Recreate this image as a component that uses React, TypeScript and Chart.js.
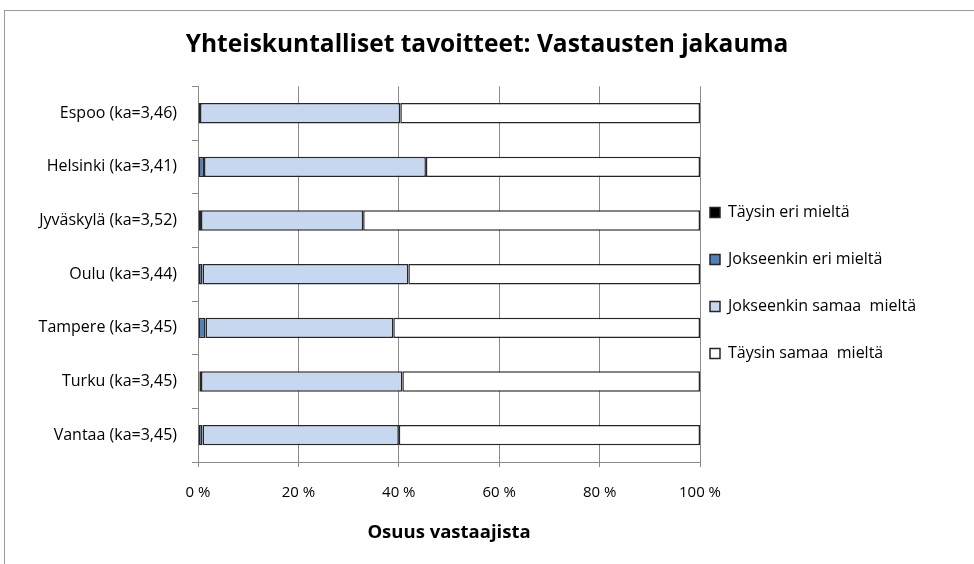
import React, { useEffect, useRef } from "react";
import { Chart, registerables } from "chart.js";

Chart.register(...registerables);

const categories = [
  "Espoo (ka=3,46)",
  "Helsinki (ka=3,41)",
  "Jyväskylä (ka=3,52)",
  "Oulu (ka=3,44)",
  "Tampere (ka=3,45)",
  "Turku (ka=3,45)",
  "Vantaa (ka=3,45)",
];

const seriesNames = [
  "Täysin eri mieltä",
  "Jokseenkin eri mieltä",
  "Jokseenkin samaa  mieltä",
  "Täysin samaa  mieltä",
];

const taysinEri = [0.4, 0, 0.6, 0, 0, 0.3, 0];
const jokseenkinEri = [0, 1.2, 0, 0.9, 1.5, 0.3, 0.9];
const jokseenkinSamaa = [39.9, 44.2, 32.3, 41.0, 37.4, 40.1, 39.1];
const taysinSamaa = [59.7, 54.6, 67.1, 58.1, 61.1, 59.3, 60.0];

const xTicks = [0, 20, 40, 60, 80, 100];

const seriesColors = ["#000000", "#4f81bd", "#c6d7ef", "#ffffff"];

const FONT = "'Open Sans', sans-serif";
const GRID = "#8a8a8a";

const nudgePlugin = {
  id: "nudge",
  afterLayout(chart: any) {
    const lg = chart.legend;
    if (lg && chart.chartArea) {
      const pad = lg.options.labels.padding;
      lg.left = chart.chartArea.right + 10 - pad;
      lg.right = chart.width;
      lg.width = lg.right - lg.left;
      lg.top -= 4;
      lg.bottom -= 4;
    }
    const t = chart.titleBlock;
    if (t) {
      t.left = 0;
      t.right = chart.width;
    }
  },
};

export default function App() {
  const ref = useRef<HTMLCanvasElement | null>(null);

  useEffect(() => {
    if (!ref.current) return;
    const values = [taysinEri, jokseenkinEri, jokseenkinSamaa, taysinSamaa];
    const chart = new Chart(ref.current, {
      type: "bar",
      data: {
        labels: categories,
        datasets: seriesNames.map((name, i) => ({
          label: name,
          data: values[i],
          backgroundColor: seriesColors[i],
          borderColor: "#262626",
          borderWidth: 1.5,
          borderSkipped: false,
          categoryPercentage: 1,
          barPercentage: 0.38,
        })),
      },
      options: {
        indexAxis: "y",
        responsive: false,
        animation: false,
        layout: { padding: { left: 10, top: 30, right: 44, bottom: 20 } },
        scales: {
          x: {
            stacked: true,
            min: 0,
            max: 100,
            afterBuildTicks: (scale: any) => {
              scale.ticks = xTicks.map((v) => ({ value: v }));
            },
            afterFit: (scale: any) => {
              scale.height = 82;
            },
            ticks: {
              callback: (v: any) => v + " %",
              color: "#000",
              font: { family: FONT, size: 15 },
              padding: 17,
            },
            grid: { color: GRID, lineWidth: 1, tickLength: 5, drawTicks: true },
            border: { display: true, color: GRID, width: 1 },
            title: {
              display: true,
              text: "Osuus vastaajista",
              color: "#000",
              font: { family: FONT, size: 18.5, weight: "bold" },
              padding: { top: 4, bottom: 0 },
            },
          },
          y: {
            stacked: true,
            afterFit: (scale: any) => {
              scale.width = 188;
            },
            ticks: {
              color: "#000",
              font: { family: FONT, size: 16 },
              padding: 15,
            },
            grid: {
              display: true,
              drawOnChartArea: false,
              drawTicks: true,
              tickLength: 6,
              offset: true,
              color: GRID,
            },
            border: { display: true, color: GRID, width: 1 },
          },
        },
        plugins: {
          title: {
            display: true,
            text: "Yhteiskuntalliset tavoitteet: Vastausten jakauma",
            color: "#000",
            font: { family: FONT, size: 24.5, weight: "bold" },
            padding: { top: 0, bottom: 27 },
          },
          legend: {
            position: "right",
            labels: {
              color: "#000",
              font: { family: FONT, size: 16 },
              boxWidth: 10,
              boxHeight: 10,
              padding: 31,
            },
          },
          tooltip: { enabled: false },
        },
      },
      plugins: [nudgePlugin],
    });
    return () => chart.destroy();
  }, []);

  return (
    <div
      style={{
        position: "fixed",
        left: 0,
        top: 0,
        width: 974,
        height: 564,
        overflow: "hidden",
        background: "#fff",
      }}
    >
      <div
        style={{
          position: "absolute",
          left: 4,
          top: 10,
          width: 990,
          height: 600,
          border: "1px solid #9a9a9a",
          boxSizing: "border-box",
        }}
      />
      <canvas
        ref={ref}
        width={974}
        height={564}
        style={{ position: "absolute", left: 0, top: 0, width: 974, height: 564 }}
      />
    </div>
  );
}
